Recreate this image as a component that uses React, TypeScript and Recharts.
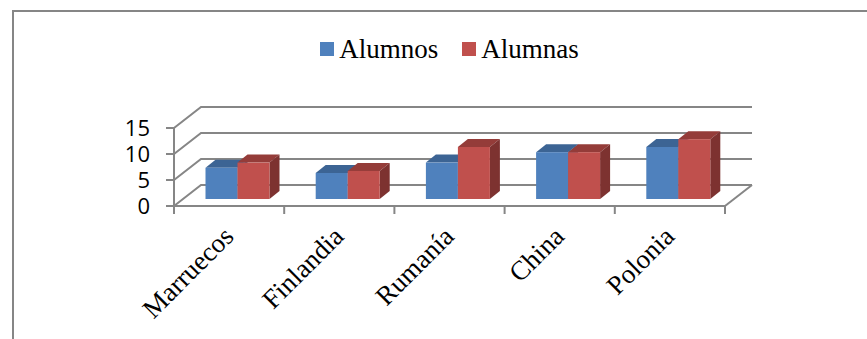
import { BarChart, Bar, XAxis, YAxis, CartesianGrid, Legend } from "recharts";

const categories = ["Marruecos", "Finlandia", "Rumanía", "China", "Polonia"];
const alumnos = [6, 5, 7, 9, 10];
const alumnas = [7, 5.4, 10, 9, 11.5];
const yTicks = [0, 5, 10, 15];

const chartData = categories.map((name, i) => ({
  name,
  Alumnos: alumnos[i],
  Alumnas: alumnas[i],
}));

// Plot box inside the 867x339 chart
const PLOT_LEFT = 174;
const PLOT_RIGHT = 142;
const PLOT_TOP = 128;
const X_AXIS_HEIGHT = 133;
const CATEGORY_WIDTH = (867 - PLOT_LEFT - PLOT_RIGHT) / categories.length;

// Depth of the fake 3D room and of each box
const WALL_DX = 27;
const WALL_DY = 21;
const BOX_DX = 10;
const BOX_DY = 8;
const BAR_SHIFT_X = 8.5;
const BAR_SHIFT_Y = 7;
const AXIS_COLOR = "#868686";

// Flat bar rectangle turned into a box with a lit top and a shaded side
function Box3D({ x, y, width, height, front, top, side }: any) {
  const l = x + BAR_SHIFT_X;
  const r = l + width;
  const t = y - BAR_SHIFT_Y;
  const b = t + height;
  return (
    <g>
      <polygon
        points={`${l},${t} ${l + BOX_DX},${t - BOX_DY} ${r + BOX_DX},${t - BOX_DY} ${r},${t}`}
        fill={top}
      />
      <polygon
        points={`${r},${t} ${r + BOX_DX},${t - BOX_DY} ${r + BOX_DX},${b - BOX_DY} ${r},${b}`}
        fill={side}
      />
      <rect x={l} y={t} width={width} height={height} fill={front} />
    </g>
  );
}

// One gridline: runs up the side wall, then across the back wall
function WallLine({ x1, x2, y1, index }: any) {
  const backY = y1 - WALL_DY;
  return (
    <g>
      <polyline
        points={`${x1},${y1} ${x1 + WALL_DX},${backY} ${x2 + WALL_DX},${backY}`}
        fill="none"
        stroke={AXIS_COLOR}
        strokeWidth={2}
      />
      {/* right edge of the floor */}
      {index === 0 && (
        <line x1={x2} y1={y1} x2={x2 + WALL_DX} y2={backY} stroke={AXIS_COLOR} strokeWidth={2} />
      )}
    </g>
  );
}

// Tick marks sit between categories, so they are drawn here with the label
function CategoryTick({ x, y, payload, index }: any) {
  const left = x - CATEGORY_WIDTH / 2;
  const right = x + CATEGORY_WIDTH / 2;
  return (
    <g>
      <line x1={left} y1={y} x2={left} y2={y + 8} stroke={AXIS_COLOR} strokeWidth={2} />
      {index === categories.length - 1 && (
        <line x1={right} y1={y} x2={right} y2={y + 8} stroke={AXIS_COLOR} strokeWidth={2} />
      )}
      <text
        x={x + 6}
        y={y + 32}
        textAnchor="end"
        transform={`rotate(-45 ${x + 6} ${y + 32})`}
        fontFamily="'Liberation Serif', serif"
        fontSize={27}
        fill="#000"
      >
        {payload.value}
      </text>
    </g>
  );
}

function LegendRow() {
  const items = [
    { label: "Alumnos", color: "#4f81bd" },
    { label: "Alumnas", color: "#c0504d" },
  ];
  return (
    <div style={{ display: "flex", justifyContent: "center", gap: 24, fontFamily: "'Liberation Serif', serif", fontSize: 27, lineHeight: "30px", color: "#000" }}>
      {items.map((item) => (
        <span key={item.label} style={{ display: "flex", alignItems: "center", gap: 5 }}>
          <span style={{ width: 14, height: 14, background: item.color }} />
          {item.label}
        </span>
      ))}
    </div>
  );
}

export default function App() {
  return (
    <div style={{ position: "absolute", left: 0, top: 0, width: 867, height: 339, overflow: "hidden", background: "#fff" }}>
      <div
        style={{
          position: "absolute",
          left: 12,
          top: 10,
          width: 860,
          height: 340,
          borderTop: `2px solid ${AXIS_COLOR}`,
          borderLeft: `2px solid ${AXIS_COLOR}`,
        }}
      />
      <div style={{ position: "absolute", left: 0, top: 0 }}>
        <BarChart
          width={867}
          height={339}
          data={chartData}
          barGap={0}
          barSize={32}
          margin={{ top: PLOT_TOP, right: PLOT_RIGHT, bottom: 0, left: PLOT_LEFT - 100 }}
        >
          <CartesianGrid vertical={false} horizontal={(p: any) => <WallLine key={p.key} {...p} />} />
          <Legend
            verticalAlign="middle"
            content={() => <LegendRow />}
            wrapperStyle={{ top: 34, left: 29, width: 841 }}
          />
          <XAxis
            dataKey="name"
            interval={0}
            height={X_AXIS_HEIGHT}
            stroke={AXIS_COLOR}
            strokeWidth={2}
            tickLine={false}
            tickSize={0}
            tickMargin={0}
            tick={<CategoryTick />}
          />
          <YAxis
            domain={[0, 15]}
            ticks={yTicks}
            width={100}
            interval={0}
            stroke={AXIS_COLOR}
            strokeWidth={2}
            tickSize={8}
            tickMargin={16}
            tick={{ fontFamily: "'Open Sans', sans-serif", fontSize: 22, fill: "#000" }}
          />
          <Bar
            dataKey="Alumnos"
            isAnimationActive={false}
            shape={(p: any) => <Box3D {...p} front="#4f81bd" top="#3c6494" side="#3a5f8b" />}
          />
          <Bar
            dataKey="Alumnas"
            isAnimationActive={false}
            shape={(p: any) => <Box3D {...p} front="#c0504d" top="#943c39" side="#7d3230" />}
          />
        </BarChart>
      </div>
    </div>
  );
}
